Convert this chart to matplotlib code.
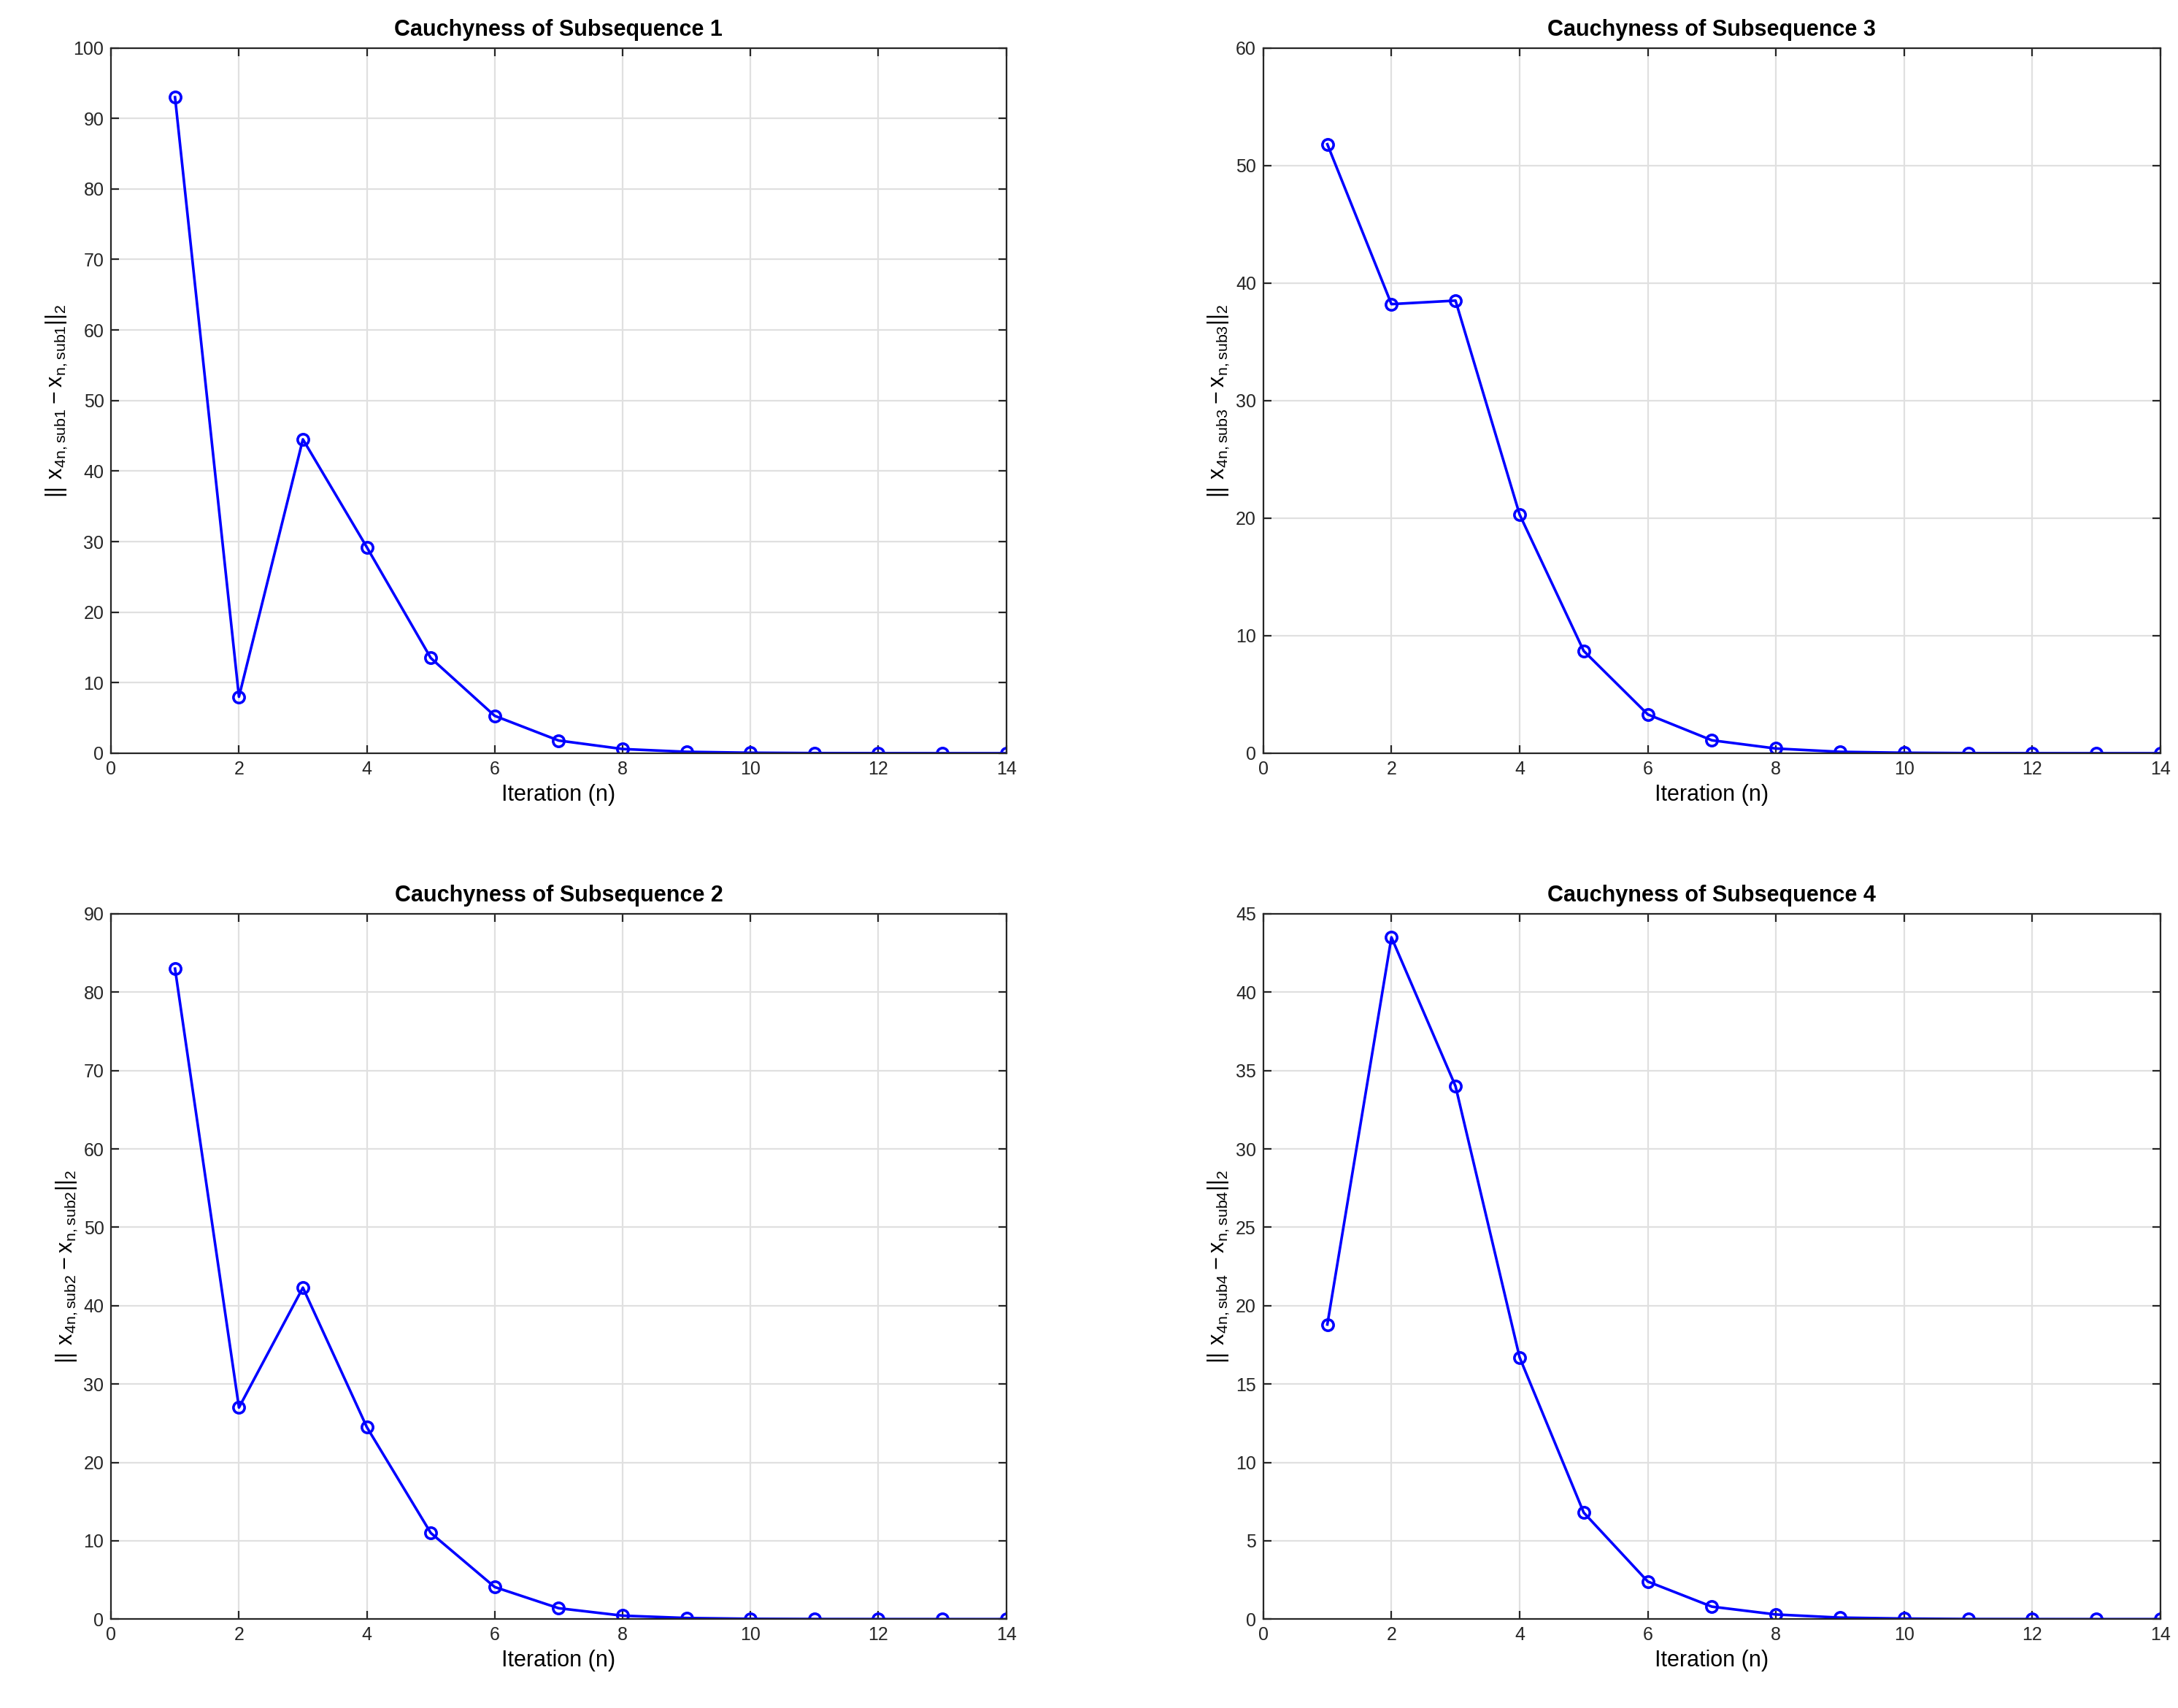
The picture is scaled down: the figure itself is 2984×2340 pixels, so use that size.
import numpy as np
import matplotlib.pyplot as plt

iters = np.arange(1, 15)
sub1 = [93.0, 8.0, 44.5, 29.2, 13.5, 5.3, 1.8, 0.6, 0.2, 0.07, 0.02, 0.01, 0.005, 0.002]
sub2 = [83.0, 27.0, 42.3, 24.5, 11.0, 4.1, 1.4, 0.45, 0.15, 0.05, 0.02, 0.01, 0.005, 0.002]
sub3 = [51.8, 38.2, 38.5, 20.3, 8.7, 3.3, 1.1, 0.4, 0.12, 0.04, 0.01, 0.005, 0.002, 0.001]
sub4 = [18.8, 43.5, 34.0, 16.7, 6.8, 2.4, 0.8, 0.3, 0.1, 0.04, 0.01, 0.005, 0.002, 0.001]

panels = [
    # (rect, data, index, ymax, ystep)
    ([0.051, 0.559, 0.411, 0.413], sub1, 1, 100, 10),
    ([0.580, 0.559, 0.412, 0.413], sub3, 3, 60, 10),
    ([0.051, 0.052, 0.411, 0.413], sub2, 2, 90, 10),
    ([0.580, 0.052, 0.412, 0.413], sub4, 4, 45, 5),
]

plt.rcParams['font.family'] = 'Liberation Sans'
fig = plt.figure(figsize=(14.92, 11.7), dpi=200)

for rect, vals, k, ymax, ystep in panels:
    ax = fig.add_axes(rect)
    ax.plot(iters, vals, color='#0000ff', marker='o', markersize=5.5,
            markerfacecolor='none', markeredgewidth=1.3, linewidth=1.3)
    ax.set_xlim(0, 14)
    ax.set_ylim(0, ymax)
    ax.set_xticks(np.arange(0, 15, 2))
    ax.set_yticks(np.arange(0, ymax + 1, ystep))
    ax.grid(True, color='#e0e0e0', linewidth=0.8)
    ax.set_axisbelow(True)
    ax.tick_params(direction='in', labelsize=9, top=True, right=True, length=4, colors='#262626')
    for s in ax.spines.values():
        s.set_color('#262626')
        s.set_linewidth(0.8)
    ax.set_title(f'Cauchyness of Subsequence {k}', fontsize=11, fontweight='bold', pad=6)
    ax.set_xlabel('Iteration (n)', fontsize=11, labelpad=3)
    ax.set_ylabel(rf'$\mathregular{{||\ x_{{4n,sub{k}}} - x_{{n,sub{k}}}||_2}}$', fontsize=11, labelpad=2)

fig.savefig('out.png', dpi=200)
